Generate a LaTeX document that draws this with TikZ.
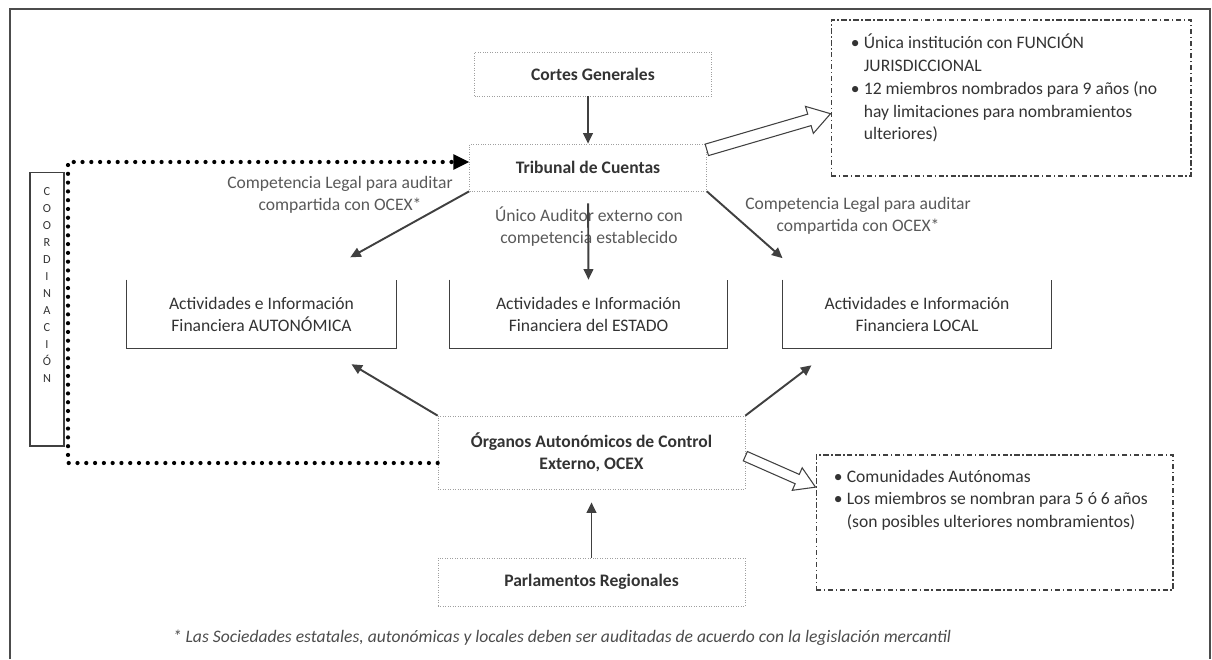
\documentclass[tikz,border=0pt]{standalone}
\usepackage{fontspec}
\setmainfont{Carlito}
\usepackage{tikz}
\usetikzlibrary{arrows.meta, positioning, calc}

\begin{document}
\begin{tikzpicture}[
  x=0.02cm, y=-0.02cm,
  >={Triangle[length=6pt,width=5.5pt]},
  every node/.style={font=\fontsize{10}{12.5}\selectfont, text=black!80},
  organ/.style={rectangle, draw=gray!75, densely dotted, align=center, font=\fontsize{10}{12.5}\selectfont\bfseries},
  actbox/.style={rectangle, minimum height=1.36cm, align=center},
  uline/.style={draw=black!75, semithick},
  infobox/.style={rectangle, draw=black!75, semithick, dash pattern=on 3pt off 1.5pt on 0.8pt off 1.5pt},
  infotext/.style={anchor=north west, inner sep=0pt, text width=6.6cm, align=flush left, font=\fontsize{10}{13}\selectfont},
  lbl/.style={align=center, text=black!65},
  arr/.style={->, draw=black!75, line width=1.1pt},
  hollow/.style={draw=black!75, semithick, fill=white, line join=miter},
  coordline/.style={line width=2.4pt, dash pattern=on 0pt off 5pt, line cap=round},
  coordbox/.style={rectangle, draw=black!75, semithick, minimum width=0.68cm, minimum height=5.48cm},
  coordtext/.style={anchor=north, inner sep=0pt, align=center, font=\fontsize{7}{9.64}\selectfont},
  frame/.style={draw=black!70, line width=0.9pt},
  footnote/.style={font=\fontsize{10}{12}\selectfont\itshape, text=black!70}
]
\useasboundingbox (0,0) rectangle (1212,659);
\draw[frame] (10,659) -- (10,9) -- (1210,9) -- (1210,659);

% organos
\node[organ, minimum width=4.74cm, minimum height=0.88cm] (cortes) at (593,74) {Cortes Generales};
\node[organ, minimum width=4.74cm, minimum height=0.94cm] (tribunal) at (588,167.5) {Tribunal de Cuentas};
\node[organ, minimum width=6.14cm, minimum height=1.46cm] (ocex) at (591.5,452.5) {Órganos Autonómicos de Control\\Externo, OCEX};
\node[organ, minimum width=6.14cm, minimum height=0.96cm] (parla) at (591.5,582) {Parlamentos Regionales};

% actividades
\node[actbox, minimum width=5.38cm] (actaut) at (261.5,314) {Actividades e Información\\Financiera AUTONÓMICA};
\node[actbox, minimum width=5.54cm] (actest) at (588.5,314) {Actividades e Información\\Financiera del ESTADO};
\node[actbox, minimum width=5.36cm] (actloc) at (917,314) {Actividades e Información\\Financiera LOCAL};
\foreach \b in {actaut, actest, actloc}
  \draw[uline] (\b.north west) -- (\b.south west) -- (\b.south east) -- (\b.north east);

% cuadros de informacion
\node[infobox, minimum width=7.2cm, minimum height=3.12cm] (tcinfo) at (1011,98) {};
\node[infotext] (tctext) at ([shift={(0.4cm,-0.28cm)}]tcinfo.north west)
  {\makebox[0.26cm][l]{\textbullet}Única institución con FUNCIÓN\\
   \hspace*{0.26cm}JURISDICCIONAL\\
   \makebox[0.26cm][l]{\textbullet}12 miembros nombrados para 9 años (no\\
   \hspace*{0.26cm}hay limitaciones para nombramientos\\
   \hspace*{0.26cm}ulteriores)};
\node[infobox, minimum width=7.14cm, minimum height=2.7cm] (ocinfo) at (994.5,522.5) {};
\node[infotext] (octext) at ([shift={(0.36cm,-0.3cm)}]ocinfo.north west)
  {\makebox[0.26cm][l]{\textbullet}Comunidades Autónomas\\
   \makebox[0.26cm][l]{\textbullet}Los miembros se nombran para 5 ó 6 años\\
   \hspace*{0.26cm}(son posibles ulteriores nombramientos)};

% coordinacion
\node[coordbox] (coord) at (47,309) {};
\node[coordtext, below=0.32cm of coord.north] (coordlbl) {C\\O\\O\\R\\D\\I\\N\\A\\C\\I\\Ó\\N};
\coordinate (cbot) at (68,463);
\coordinate (ctop) at (68,162);
\draw[coordline] (ocex.west |- cbot) -- (cbot) -- (ctop) -- ([xshift=-9pt]tribunal.west |- ctop);
\fill[black] (tribunal.west |- ctop) -- ++(-9pt,4.5pt) -- ++(0,-9pt) -- cycle;

% etiquetas
\node[lbl] (lblaut) at (340,195) {Competencia Legal para auditar\\compartida con OCEX*};
\node[lbl] (lblest) at (589,227) {Único Auditor externo con\\competencia establecido};
\node[lbl] (lblloc) at (858,215.5) {Competencia Legal para auditar\\compartida con OCEX*};

% flechas
\draw[arr] (tribunal.north |- cortes.south) -- (tribunal.north);
\draw[arr, shorten <=0.24cm] (tribunal.south) -- (actest.north);
\draw[arr, shorten >=0.92cm] (tribunal.south west) -- ($(actaut.north west)!0.68!(actaut.north east)$);
\draw[arr, shorten >=0.65cm] (tribunal.south east) -- ($(actloc.north west)!0.09!(actloc.north east)$);
\draw[arr, shorten >=0.62cm] (ocex.north west) -- ($(actaut.south west)!0.735!(actaut.south east)$);
\draw[arr, shorten >=0.56cm] (ocex.north east) -- ($(actloc.south west)!0.19!(actloc.south east)$);
\draw[arr, shorten >=0.26cm] (parla.north) -- (ocex.south);

% flechas huecas
\coordinate (tcs) at ($(tribunal.north east)!0.13!(tribunal.south east)$);
\coordinate (tce) at ($(tcinfo.north west)!0.6!(tcinfo.south west)$);
\coordinate (tch) at ($(tce)!0.44cm!(tcs)$);
\draw[hollow] ($(tcs)!3.4pt!90:(tce)$) -- ($(tch)!3.4pt!90:(tce)$) -- ($(tch)!8pt!90:(tce)$) -- (tce)
  -- ($(tch)!8pt!-90:(tce)$) -- ($(tch)!3.4pt!-90:(tce)$) -- ($(tcs)!3.4pt!-90:(tce)$) -- cycle;
\coordinate (ocs) at ($(ocex.north east)!0.55!(ocex.south east)$);
\coordinate (oce) at ($(ocinfo.north west)!0.24!(ocinfo.south west)$);
\coordinate (och) at ($(oce)!0.4cm!(ocs)$);
\draw[hollow] ($(ocs)!2.9pt!90:(oce)$) -- ($(och)!2.9pt!90:(oce)$) -- ($(och)!7pt!90:(oce)$) -- (oce)
  -- ($(och)!7pt!-90:(oce)$) -- ($(och)!2.9pt!-90:(oce)$) -- ($(ocs)!2.9pt!-90:(oce)$) -- cycle;

\node[footnote] (nota) at (562,638) {* Las Sociedades estatales, autonómicas y locales deben ser auditadas de acuerdo con la legislación mercantil};
\end{tikzpicture}
\end{document}
